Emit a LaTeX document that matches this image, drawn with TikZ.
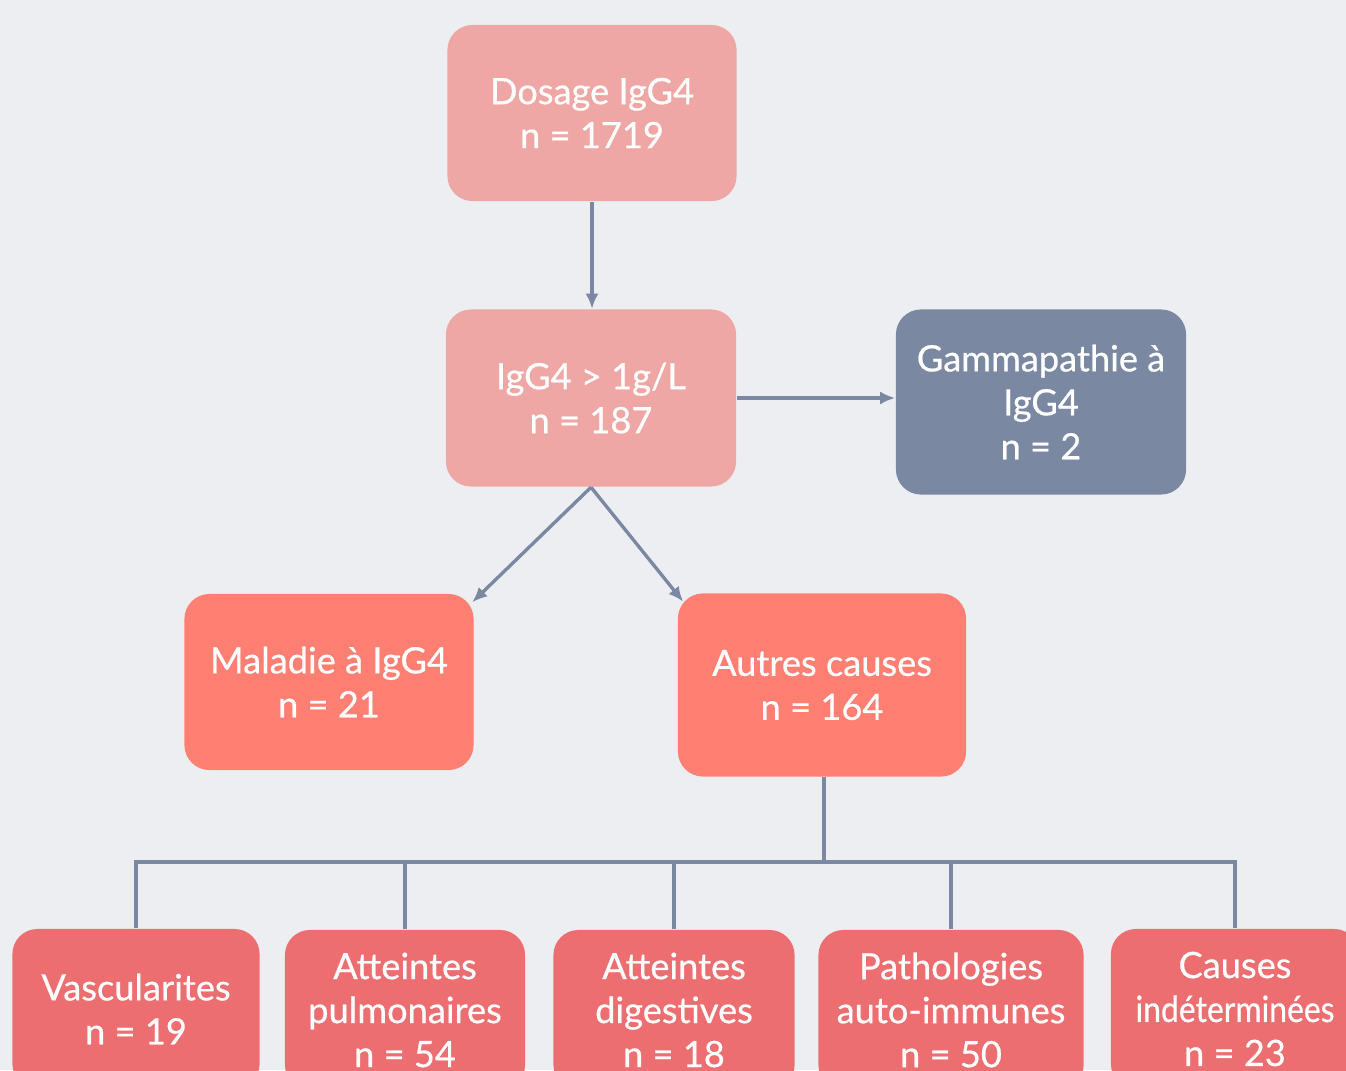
\documentclass[tikz,border=0pt]{standalone}
\usepackage{fontspec}
\setmainfont{Lato}
\newfontfamily\epais{Lato}[FakeBold=0.6]
\usetikzlibrary{arrows.meta}

\definecolor{fond}{HTML}{EDEEF2}
\definecolor{rosepale}{HTML}{EEA7A4}
\definecolor{saumon}{HTML}{FF7F72}
\definecolor{rouge}{HTML}{EC6E71}
\definecolor{ardoise}{HTML}{7B88A2}

\begin{document}
\begin{tikzpicture}[x=0.01cm,y=-0.01cm,
  boite/.style={rounded corners=0.25cm,text=white,align=center,inner sep=0pt,
    font=\epais\fontsize{10.3}{12.5}\selectfont},
  fleche/.style={draw=ardoise,line width=0.95pt,-{Latex[length=1.5mm,width=1.3mm]}},
  trait/.style={draw=ardoise,line width=0.95pt}]

\fill[fond] (0,0) rectangle (1346,1070);
\useasboundingbox (0,0) rectangle (1346,1070);
\clip (0,0) rectangle (1346,1070);

\node[boite,fill=rosepale,minimum width=2.89cm,minimum height=1.76cm] (dos) at (592,113) {Dosage IgG4\\n = 1719};
\node[boite,fill=rosepale,minimum width=2.90cm,minimum height=1.77cm] (sup) at (591,398) {IgG4 > 1g/L\\n = 187};
\node[boite,fill=ardoise,minimum width=2.90cm,minimum height=1.85cm] (gam) at (1041,402) {Gammapathie à\\IgG4\\n = 2};
\node[boite,fill=saumon,minimum width=2.89cm,minimum height=1.76cm] (mal) at (329,682) {Maladie à IgG4\\n = 21};
\node[boite,fill=saumon,minimum width=2.88cm,minimum height=1.83cm] (aut) at (822,685) {Autres causes\\n = 164};

\node[boite,fill=rouge,minimum width=2.47cm,minimum height=1.60cm] (vas) at (136,1009) {Vascularites\\n = 19};
\node[boite,fill=rouge,minimum width=2.40cm,minimum height=1.60cm] (pul) at (405,1010) {Atteintes\\pulmonaires\\n = 54};
\node[boite,fill=rouge,minimum width=2.41cm,minimum height=1.60cm] (dig) at (674,1010) {Atteintes\\digestives\\n = 18};
\node[boite,fill=rouge,minimum width=2.65cm,minimum height=1.60cm] (pat) at (951,1010) {Pathologies\\auto-immunes\\n = 50};
\node[boite,fill=rouge,minimum width=2.48cm,minimum height=1.60cm] (ind) at (1235,1009) {Causes\\\scalebox{0.88}[1]{indéterminées}\\n = 23};

\coordinate (bus) at (824,862);

\draw[fleche] (dos.south) -- (dos.south |- sup.north);
\draw[fleche] (sup.east) -- (sup.east -| gam.west);
\draw[fleche] (sup.south) -- ([shift={(-2,9)}]mal.north east);
\draw[fleche] (sup.south) -- ([shift={(6,9)}]aut.north west);

\draw[trait] ([xshift=0.02cm]aut.south) -- ([xshift=0.02cm]aut.south |- bus);
\draw[trait] (vas.north) |- (ind.north |- bus) -- (ind.north);
\draw[trait] (pul.north) -- (pul.north |- bus);
\draw[trait] (dig.north) -- (dig.north |- bus);
\draw[trait] (pat.north) -- (pat.north |- bus);

\end{tikzpicture}
\end{document}
